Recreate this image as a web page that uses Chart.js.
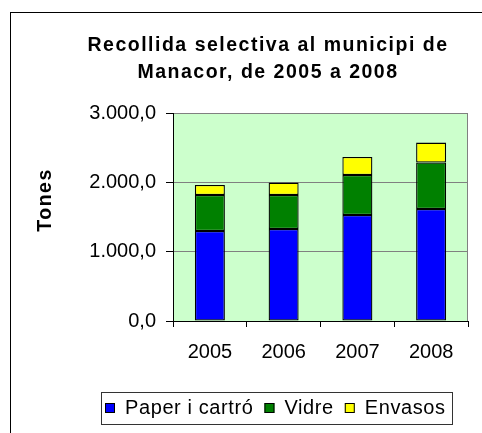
<!DOCTYPE html>
<html>
<head>
<meta charset="utf-8">
<title>Recollida selectiva al municipi de Manacor</title>
<script src="https://cdn.jsdelivr.net/npm/chart.js@4/dist/chart.umd.min.js"></script>
<style>
  html, body { margin: 0; padding: 0; background: #fff; }
  canvas { display: block; }
</style>
</head>
<body>
<canvas id="chart" width="482" height="433"></canvas>
<script>
// Tones collected per year, by material
const years = ['2005', '2006', '2007', '2008'];
const paperCarto = [1298, 1327, 1529, 1615];
const vidre = [519, 490, 577, 670];
const envasos = [145, 179, 259, 288];

const seriesNames = ['Paper i cartró', 'Vidre', 'Envasos'];
const seriesColors = ['#0000FF', '#008000', '#FFFF00'];

const titleLines = ['Recollida selectiva al municipi de', 'Manacor, de 2005 a 2008'];
const axisTitle = 'Tones';

const FONT = "'Liberation Sans', Arial, sans-serif";

// 3000 -> "3.000,0"
function formatTones(v) {
  const parts = Number(v).toFixed(1).split('.');
  const intPart = parts[0].replace(/\B(?=(\d{3})+(?!\d))/g, '.');
  return intPart + ',' + parts[1];
}

// Page frame, plot background, title, axis title and legend box
const decorations = {
  id: 'decorations',
  beforeDraw(chart) {
    const ctx = chart.ctx;
    const a = chart.chartArea;
    ctx.save();
    ctx.fillStyle = '#FFFFFF';
    ctx.fillRect(0, 0, chart.width, chart.height);
    ctx.strokeStyle = '#000000';
    ctx.lineWidth = 1;
    ctx.strokeRect(10.5, 12.5, 600, 600);
    ctx.fillStyle = '#CCFFCC';
    ctx.fillRect(a.left, a.top, a.right - a.left, a.bottom - a.top);
    ctx.strokeStyle = '#808080';
    ctx.beginPath();
    ctx.moveTo(Math.round(a.right) - 0.5, a.top);
    ctx.lineTo(Math.round(a.right) - 0.5, a.bottom);
    ctx.stroke();
    ctx.restore();
  },
  afterDraw(chart) {
    const ctx = chart.ctx;
    ctx.save();
    // title
    ctx.fillStyle = '#000000';
    ctx.font = 'bold 19.5px ' + FONT;
    ctx.letterSpacing = '1.5px';
    ctx.textAlign = 'center';
    ctx.textBaseline = 'alphabetic';
    ctx.fillText(titleLines[0], 268, 51);
    ctx.fillText(titleLines[1], 268, 78);
    // vertical axis title
    ctx.save();
    ctx.translate(51, 200);
    ctx.rotate(-Math.PI / 2);
    ctx.font = 'bold 19.5px ' + FONT;
    ctx.letterSpacing = '1.5px';
    ctx.fillText(axisTitle, 0, 0);
    ctx.restore();

    // legend
    const lx = 101, ly = 392, lw = 351, lh = 32;
    ctx.strokeStyle = '#333333';
    ctx.lineWidth = 1;
    ctx.strokeRect(lx + 0.5, ly + 0.5, lw, lh);
    ctx.font = '20px ' + FONT;
    ctx.letterSpacing = '0.6px';
    ctx.textAlign = 'left';
    ctx.textBaseline = 'alphabetic';
    let x = 105;
    chart.data.datasets.forEach((ds) => {
      ctx.fillStyle = ds.backgroundColor;
      ctx.fillRect(x, 403, 10, 10);
      ctx.strokeStyle = '#000000';
      ctx.strokeRect(x + 0.5, 403.5, 9, 9);
      x += 10 + 10;
      ctx.fillStyle = '#000000';
      ctx.fillText(ds.label, x, 414);
      x += ctx.measureText(ds.label).width + 11;
    });
    ctx.restore();
  }
};

const datasets = [paperCarto, vidre, envasos].map((values, i) => ({
  label: seriesNames[i],
  data: values,
  backgroundColor: seriesColors[i],
  borderColor: '#000000',
  borderWidth: 1.3,
  borderSkipped: false,
  categoryPercentage: 1,
  barPercentage: 0.407
}));

new Chart(document.getElementById('chart'), {
  type: 'bar',
  data: { labels: years, datasets },
  plugins: [decorations],
  options: {
    responsive: false,
    devicePixelRatio: 1,
    animation: false,
    events: [],
    layout: { padding: { top: 113, right: 14, left: 0, bottom: 67 } },
    plugins: {
      legend: { display: false },
      title: { display: false },
      tooltip: { enabled: false }
    },
    scales: {
      x: {
        stacked: true,
        grid: {
          offset: true,
          drawOnChartArea: false,
          drawTicks: true,
          tickLength: 6,
          color: '#000000',
          lineWidth: 1
        },
        border: { color: '#000000', width: 1 },
        ticks: {
          color: '#000000',
          font: { family: FONT, size: 20 },
          padding: 13,
          maxRotation: 0
        },
        afterFit(scale) { scale.height = 45; }
      },
      y: {
        stacked: true,
        min: 0,
        max: 3000,
        grid: {
          color: (c) => (c.tick && c.tick.value === 0 ? 'rgba(0,0,0,0)' : '#808080'),
          tickColor: '#000000',
          tickLength: 7,
          lineWidth: 1
        },
        border: { color: '#000000', width: 1 },
        ticks: {
          stepSize: 1000,
          color: '#000000',
          font: { family: FONT, size: 20 },
          padding: 10,
          callback: (v) => formatTones(v)
        },
        afterFit(scale) { scale.width = 173; }
      }
    }
  }
});
</script>
</body>
</html>
